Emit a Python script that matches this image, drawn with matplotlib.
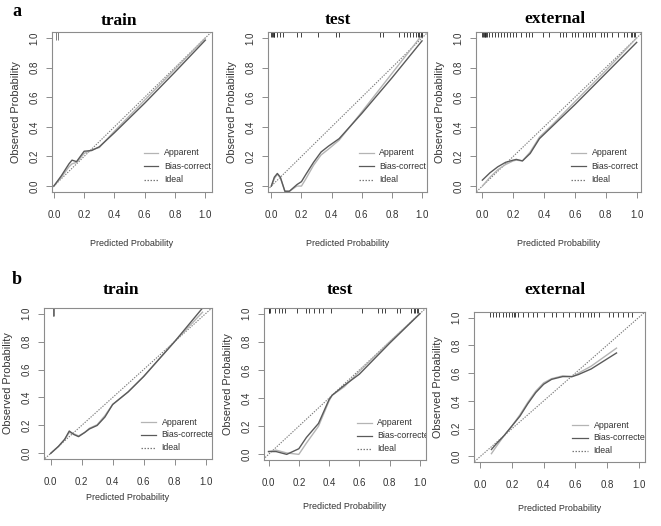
import numpy as np
import matplotlib
matplotlib.use('Agg')
import matplotlib.pyplot as plt
import matplotlib.transforms as mtransforms

plt.rcParams['font.family'] = ['Liberation Sans', 'DejaVu Sans']

# ---------------- data ----------------
a_train_x   = [0.0, 0.05, 0.1, 0.12, 0.15, 0.2, 0.25, 0.3, 0.4, 0.6, 0.8, 1.0]
a_train_app = [0.0, 0.06, 0.13, 0.15, 0.16, 0.22, 0.245, 0.26, 0.37, 0.58, 0.79, 1.0]
a_train_bc  = [0.0, 0.07, 0.15, 0.175, 0.165, 0.235, 0.24, 0.265, 0.36, 0.56, 0.77, 0.985]
a_train_rug = [0.015, 0.025]

a_test_x   = [0.0, 0.02, 0.04, 0.06, 0.09, 0.12, 0.17, 0.2, 0.23, 0.28, 0.33, 0.38, 0.45, 0.6, 0.8, 1.0]
a_test_app = [0.0, 0.05, 0.08, 0.055, -0.035, -0.035, 0.0, 0.0, 0.05, 0.14, 0.21, 0.25, 0.31, 0.5, 0.76, 1.02]
a_test_bc  = [0.0, 0.06, 0.085, 0.06, -0.035, -0.035, 0.01, 0.03, 0.08, 0.16, 0.23, 0.27, 0.32, 0.49, 0.73, 0.98]
a_test_rug = [0.0, 0.005, 0.01, 0.015, 0.02, 0.04, 0.055, 0.075, 0.17, 0.2, 0.31, 0.43, 0.45,
              0.72, 0.74, 0.85, 0.88, 0.9, 0.92, 0.94, 0.96, 0.97, 0.98, 0.99, 1.0]

a_ext_x   = [0.0, 0.05, 0.1, 0.15, 0.2, 0.22, 0.26, 0.31, 0.37, 0.45, 0.6, 0.8, 1.0]
a_ext_app = [0.0, 0.06, 0.11, 0.145, 0.17, 0.175, 0.17, 0.23, 0.33, 0.41, 0.57, 0.78, 1.0]
a_ext_bc  = [0.04, 0.09, 0.13, 0.16, 0.175, 0.18, 0.17, 0.22, 0.32, 0.4, 0.55, 0.76, 0.97]
a_ext_rug = [0.0, 0.005, 0.01, 0.015, 0.02, 0.025, 0.03, 0.04, 0.06, 0.08, 0.1, 0.12, 0.14, 0.16,
             0.18, 0.2, 0.22, 0.25, 0.28, 0.3, 0.32, 0.39, 0.43, 0.5, 0.52, 0.54, 0.58, 0.6,
             0.62, 0.65, 0.67, 0.69, 0.71, 0.73, 0.77, 0.79, 0.81, 0.84, 0.88, 0.92, 0.94,
             0.96, 0.97, 0.98, 0.99]

b_train_x   = [0.0, 0.05, 0.09, 0.12, 0.15, 0.18, 0.22, 0.25, 0.3, 0.35, 0.4, 0.5, 0.6, 0.8, 0.98]
b_train_app = [0.0, 0.05, 0.1, 0.15, 0.14, 0.125, 0.15, 0.18, 0.205, 0.27, 0.35, 0.44, 0.55, 0.8, 1.01]
b_train_bc  = [0.0, 0.05, 0.1, 0.16, 0.135, 0.12, 0.15, 0.175, 0.2, 0.26, 0.35, 0.44, 0.55, 0.8, 1.04]
b_train_rug = [0.012, 0.018, 0.024]

b_test_x   = [0.0, 0.05, 0.12, 0.2, 0.25, 0.33, 0.4, 0.42, 0.5, 0.6, 0.8, 1.0]
b_test_app = [0.02, 0.03, 0.01, 0.0, 0.08, 0.2, 0.38, 0.42, 0.48, 0.59, 0.8, 1.0]
b_test_bc  = [0.02, 0.02, 0.0, 0.04, 0.12, 0.22, 0.39, 0.42, 0.49, 0.57, 0.79, 1.0]
b_test_rug = [0.0, 0.005, 0.01, 0.045, 0.07, 0.09, 0.11, 0.19, 0.25, 0.27, 0.3, 0.33, 0.36,
              0.41, 0.62, 0.72, 0.75, 0.77, 0.85, 0.87, 0.94, 0.96, 0.97, 0.98, 0.99]

b_ext_x   = [0.07, 0.1, 0.15, 0.2, 0.25, 0.3, 0.35, 0.4, 0.45, 0.52, 0.58, 0.62, 0.7, 0.86]
b_ext_app = [0.02, 0.07, 0.15, 0.22, 0.3, 0.39, 0.47, 0.53, 0.56, 0.58, 0.575, 0.6, 0.65, 0.78]
b_ext_bc  = [0.05, 0.09, 0.15, 0.22, 0.29, 0.38, 0.46, 0.52, 0.555, 0.575, 0.575, 0.59, 0.63, 0.745]
b_ext_rug = [0.06, 0.08, 0.1, 0.12, 0.14, 0.16, 0.18, 0.2, 0.21, 0.22, 0.24, 0.27, 0.3, 0.33,
             0.36, 0.4, 0.45, 0.48, 0.52, 0.56, 0.6, 0.63, 0.65, 0.68, 0.7, 0.72, 0.75, 0.81,
             0.84, 0.87, 0.9, 0.93, 0.96]

titles = ['train', 'test', 'external']
# the legend text is cut off by the plot border in the original
legend_a = ['Apparent', 'Bias-correct', 'Ideal']
legend_b = ['Apparent', 'Bias-correcte', 'Ideal']
ticks = [0.0, 0.2, 0.4, 0.6, 0.8, 1.0]

panels = [
    (a_train_x, a_train_app, a_train_bc, a_train_rug),
    (a_test_x, a_test_app, a_test_bc, a_test_rug),
    (a_ext_x, a_ext_app, a_ext_bc, a_ext_rug),
    (b_train_x, b_train_app, b_train_bc, b_train_rug),
    (b_test_x, b_test_app, b_test_bc, b_test_rug),
    (b_ext_x, b_ext_app, b_ext_bc, b_ext_rug),
]

# axes boxes in pixels: left, right, top, bottom, xlim, title centre (x, y), xlabel pad
W, H = 661, 526
boxes = [
    (52, 212, 32, 192, (-0.012, 1.044), (119, 21), 14),
    (268, 427, 32, 192, (-0.022, 1.033), (338, 20), 14),
    (476, 641, 32, 192, (-0.041, 1.028), (555, 19), 14),
    (44, 212, 308, 459, (-0.043, 1.041), (121, 290), 4),
    (264, 426, 308, 460, (-0.03, 1.04), (340, 290), 10),
    (474, 645, 312, 462, (-0.04, 1.04), (555, 290), 10),
]

C_APP = '#b4b4b4'
C_BC = '#5a5a5a'
C_IDEAL = '#7a7a7a'
C_FRAME = '#8c8c8c'
C_TEXT = '#333333'

fig = plt.figure(figsize=(W / 100, H / 100), dpi=100)
fig.patch.set_facecolor('white')

for i, ((x, app, bc, rug), (l, r, t, b, xl, tpos, xpad)) in enumerate(zip(panels, boxes)):
    ax = fig.add_axes([l / W, 1 - b / H, (r - l) / W, (b - t) / H])
    ax.set_xlim(xl)
    ax.set_ylim(-0.04, 1.04)

    ax.plot([-0.1, 1.1], [-0.1, 1.1], ls=(0, (1.2, 1.2)), color=C_IDEAL, lw=0.8)
    ax.plot(x, app, color=C_APP, lw=1.0)
    ax.plot(x, bc, color=C_BC, lw=1.0)

    # rug of predicted probabilities along the top
    trans = mtransforms.blended_transform_factory(ax.transData, ax.transAxes)
    rug_len = 0.05 if i in (0, 3) else 0.03
    rug_col = '#666666' if i in (0, 3) else '#222222'
    ax.vlines(rug, 1 - rug_len, 1.0, color=rug_col, lw=0.6, transform=trans)

    for s in ax.spines.values():
        s.set_color(C_FRAME)
        s.set_linewidth(0.8)
    ax.set_xticks(ticks)
    ax.set_yticks(ticks)
    ax.set_xticklabels([f'{v:.1f}' for v in ticks])
    ax.set_yticklabels([f'{v:.1f}' for v in ticks], rotation=90, va='center')
    ax.tick_params(colors=C_FRAME, labelcolor=C_TEXT, labelsize=7, length=4, width=0.7)
    ax.tick_params(axis='x', pad=9)
    ax.tick_params(axis='y', pad=5)

    ax.set_xlabel('Predicted Probability', fontsize=6.5, color=C_TEXT, labelpad=xpad)
    ax.set_ylabel('Observed Probability', fontsize=7.8, color=C_TEXT, labelpad=6)
    fig.text(tpos[0] / W, 1 - tpos[1] / H, titles[i % 3], family='Liberation Serif',
             fontweight='bold', fontsize=12.5, ha='center', va='center')

    # legend drawn inside the box like the original
    labels = legend_a if i < 3 else legend_b
    styles = [('-', C_APP), ('-', C_BC), ((0, (1.2, 1.2)), C_IDEAL)]
    for k, (lab, (ls, c)) in enumerate(zip(labels, styles)):
        yk = 0.245 - k * 0.085
        ax.plot([0.575, 0.665], [yk, yk], ls=ls, color=c, lw=0.9, transform=ax.transAxes)
        ax.text(0.7, yk, lab, transform=ax.transAxes, fontsize=6.3, color=C_TEXT,
                va='center', ha='left', clip_on=True)

fig.text(12 / W, 1 - 11 / H, 'a', family='Liberation Serif', fontweight='bold', fontsize=13,
         va='center', ha='left')
fig.text(12 / W, 1 - 280 / H, 'b', family='Liberation Serif', fontweight='bold', fontsize=13,
         va='center', ha='left')

fig.savefig('out.png', dpi=100)
